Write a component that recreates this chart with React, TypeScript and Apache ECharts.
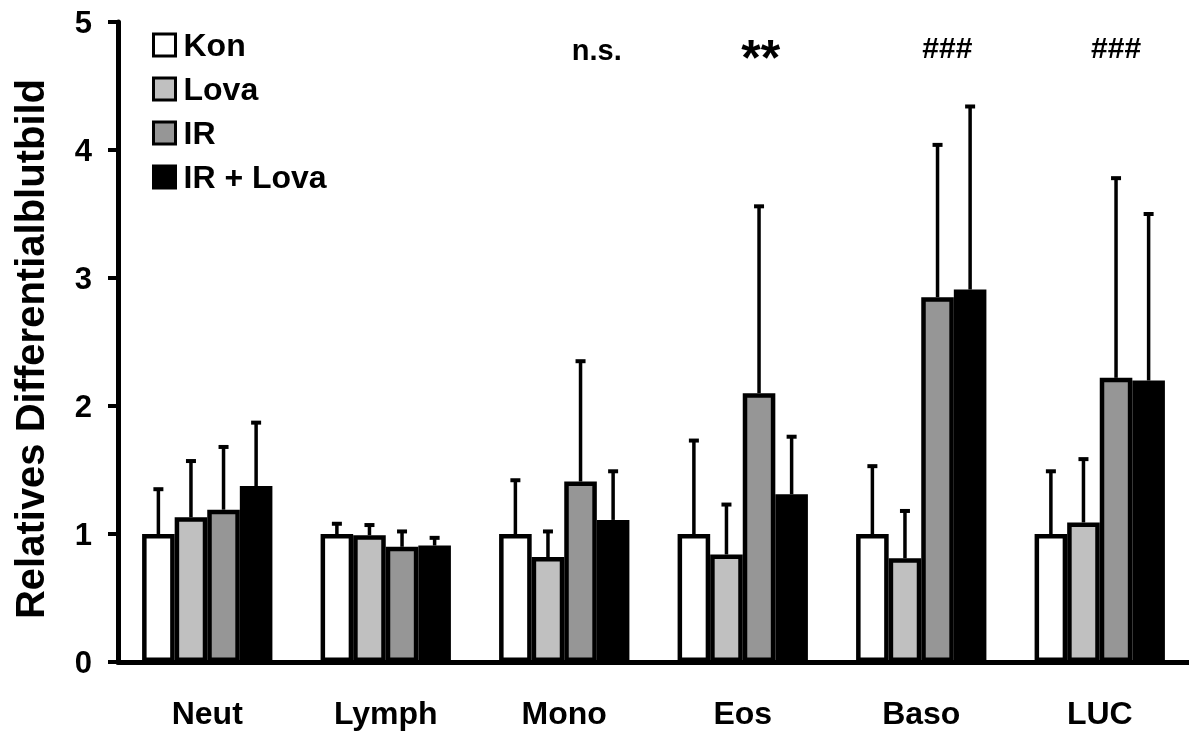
import React, { useEffect, useRef } from "react";
import * as echarts from "echarts";

const categories = ["Neut", "Lymph", "Mono", "Eos", "Baso", "LUC"];
const seriesNames = ["Kon", "Lova", "IR", "IR + Lova"];
const seriesColors = ["#ffffff", "#c0c0c0", "#969696", "#000000"];

const konMean = [1.0, 1.0, 1.0, 1.0, 1.0, 1.0];
const konErr = [1.35, 1.08, 1.42, 1.73, 1.53, 1.49];
const lovaMean = [1.13, 0.99, 0.82, 0.84, 0.81, 1.09];
const lovaErr = [1.57, 1.07, 1.02, 1.23, 1.18, 1.585];
const irMean = [1.19, 0.9, 1.41, 2.1, 2.85, 2.22];
const irErr = [1.68, 1.02, 2.35, 3.56, 4.04, 3.78];
const irLovaMean = [1.375, 0.91, 1.11, 1.31, 2.91, 2.2];
const irLovaErr = [1.87, 0.97, 1.49, 1.76, 4.34, 3.5];

const yTicks = [0, 1, 2, 3, 4, 5];

const annotationCats = [2, 3, 4, 5];
const annotationTexts = ["n.s.", "**", "###", "###"];
const annotationY = [4.78, 4.78, 4.8, 4.8];
const annotationShift = [1.0, 0.55, 0.8, 0.5]; // in bar widths
const annotationSize = [29, 50, 30, 30];
const annotationDy = [0, 8, 0, 0];

const GAP = 0.27;
const FONT = "'Liberation Sans', Arial, Helvetica, sans-serif";

export default function App() {
  const ref = useRef<HTMLDivElement>(null);
  useEffect(() => {
    if (!ref.current) return;
    const chart = echarts.init(ref.current, undefined, { renderer: "svg" });
    const means = [konMean, lovaMean, irMean, irLovaMean];
    const errs = [konErr, lovaErr, irErr, irLovaErr];

    const errData: number[][] = [];
    means.forEach((m, s) => {
      m.forEach((v, c) => errData.push([c, v, errs[s][c], s]));
    });

    const annData = annotationCats.map((c, i) => [c, annotationY[i], i]);

    const barSeries = seriesNames.map((name, s) => ({
      name,
      type: "bar",
      data: means[s],
      barGap: "0%",
      barCategoryGap: GAP * 100 + "%",
      itemStyle: { color: seriesColors[s], borderColor: "#000", borderWidth: 4.5 },
      z: 2,
    }));

    chart.setOption({
      animation: false,
      grid: { left: 118, top: 22, width: 1077, height: 640 },
      legend: {
        orient: "vertical",
        left: 147,
        top: 24,
        itemWidth: 22,
        itemHeight: 22,
        itemGap: 12,
        icon: "rect",
        itemStyle: { borderColor: "#000", borderWidth: 3 },
        textStyle: { fontSize: 32, fontWeight: "bold", fontFamily: FONT, color: "#000", padding: [0, 0, 0, 3] },
        data: seriesNames,
      },
      xAxis: {
        type: "category",
        data: categories,
        axisLine: { lineStyle: { color: "#000", width: 5 } },
        axisTick: { show: false },
        axisLabel: { fontSize: 32, fontWeight: "bold", fontFamily: FONT, color: "#000", margin: 35 },
      },
      yAxis: {
        type: "value",
        min: yTicks[0],
        max: yTicks[yTicks.length - 1],
        interval: 1,
        splitLine: { show: false },
        axisLine: { show: true, lineStyle: { color: "#000", width: 5 } },
        axisTick: { show: true, length: 10, lineStyle: { color: "#000", width: 4 } },
        axisLabel: { fontSize: 31, fontWeight: "bold", fontFamily: FONT, color: "#000", margin: 26 },
      },
      graphic: [
        {
          type: "text",
          x: 30,
          y: 349,
          rotation: Math.PI / 2,
          style: {
            text: "Relatives Differentialblutbild",
            fontSize: 40,
            fontWeight: "bold",
            fontFamily: FONT,
            fill: "#000",
            align: "center",
            verticalAlign: "middle",
          },
        },
      ],
      series: [
        ...barSeries,
        {
          type: "custom",
          name: "err",
          data: errData,
          z: 3,
          encode: { x: 0, y: [1, 2] },
          renderItem: (params: any, api: any) => {
            const c = api.value(0);
            const m = api.value(1);
            const hi = api.value(2);
            const s = api.value(3);
            const band = api.size([1, 0])[0];
            const bw = (band * (1 - GAP)) / 4;
            const p0 = api.coord([c, m]);
            const p1 = api.coord([c, hi]);
            const x = p0[0] + (s - 1.5) * bw;
            return {
              type: "group",
              children: [
                { type: "line", shape: { x1: x, y1: p0[1], x2: x, y2: p1[1] }, style: { stroke: "#000", lineWidth: 3.5 } },
                { type: "line", shape: { x1: x - 5, y1: p1[1], x2: x + 5, y2: p1[1] }, style: { stroke: "#000", lineWidth: 4 } },
              ],
            };
          },
        },
        {
          type: "custom",
          name: "ann",
          data: annData,
          z: 4,
          renderItem: (params: any, api: any) => {
            const c = api.value(0);
            const v = api.value(1);
            const i = api.value(2);
            const band = api.size([1, 0])[0];
            const bw = (band * (1 - GAP)) / 4;
            const p = api.coord([c, v]);
            return {
              type: "text",
              x: p[0] + annotationShift[i] * bw,
              y: p[1] + annotationDy[i],
              style: {
                text: annotationTexts[i],
                fontSize: annotationSize[i],
                fontWeight: "bold",
                fontFamily: FONT,
                fill: "#000",
                align: "center",
                verticalAlign: "middle",
              },
            };
          },
        },
      ],
    });
    return () => chart.dispose();
  }, []);
  return <div ref={ref} style={{ position: "fixed", left: 0, top: 0, width: 1189, height: 731 }} />;
}
